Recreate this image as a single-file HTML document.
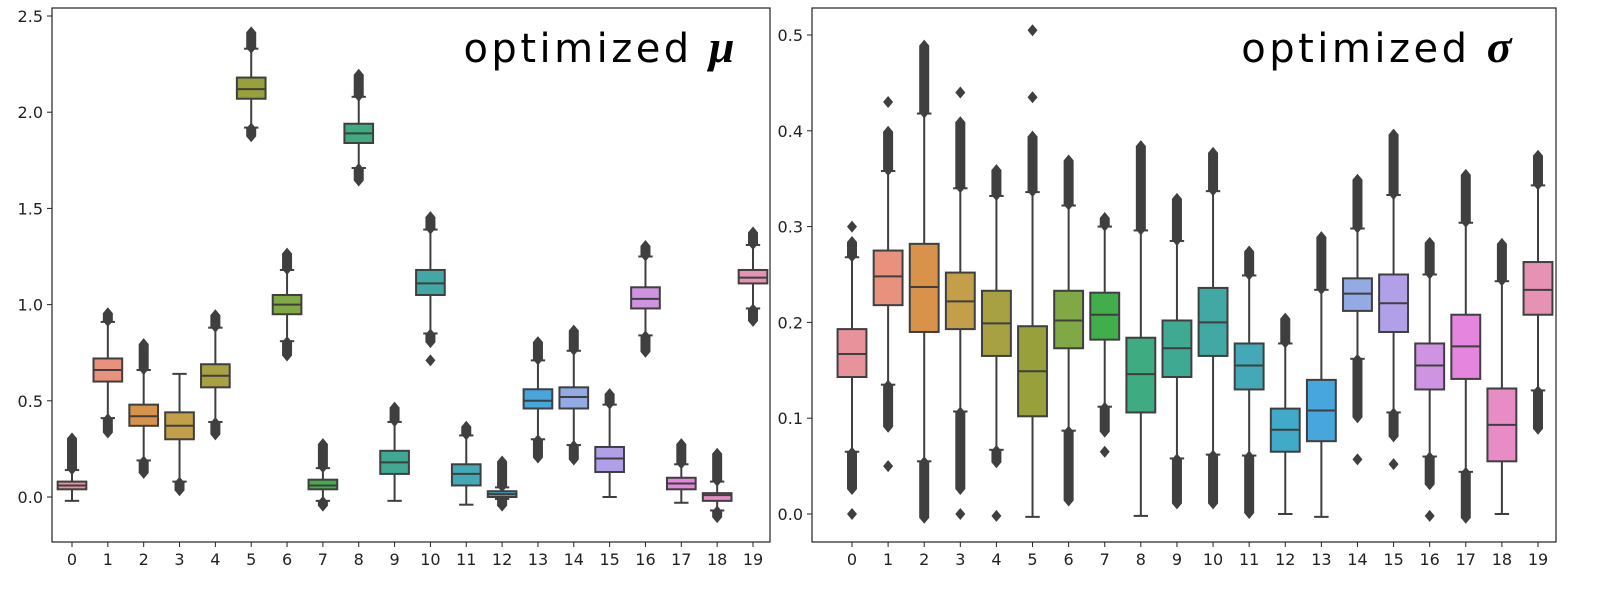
<!DOCTYPE html>
<html><head><meta charset="utf-8"><style>
html,body{margin:0;padding:0;background:#fff;}
svg{display:block;font-family:"DejaVu Sans","Liberation Sans",sans-serif;}
</style></head><body>
<svg id="chart" width="1622" height="603" viewBox="0 0 1622 603" xmlns="http://www.w3.org/2000/svg"></svg>
<script>
const categories = [0,1,2,3,4,5,6,7,8,9,10,11,12,13,14,15,16,17,18,19];
const colors = ["#e8929c","#e8927e","#d8924a","#c49f4a","#a8a144","#97a03b","#80a844","#41ad4b","#3fab80","#3fa992","#42a8a3","#43a9b6","#41aac8","#47a6dc","#93aae4","#b1a0e8","#cf94e1","#e486dd","#e88cc6","#e592b4"];

// mu panel
const muQ1 = [0.04,0.60,0.37,0.30,0.57,2.07,0.95,0.04,1.84,0.12,1.05,0.06,0.00,0.46,0.46,0.13,0.98,0.04,-0.02,1.11];
const muMed = [0.06,0.66,0.42,0.37,0.63,2.12,1.00,0.06,1.89,0.18,1.11,0.12,0.015,0.50,0.52,0.20,1.03,0.07,0.01,1.14];
const muQ3 = [0.08,0.72,0.48,0.44,0.69,2.18,1.05,0.09,1.94,0.24,1.18,0.17,0.03,0.56,0.57,0.26,1.09,0.10,0.02,1.18];
const muWLo = [-0.02,0.41,0.19,0.08,0.39,1.92,0.81,-0.02,1.71,-0.02,0.85,-0.04,-0.01,0.30,0.27,0.00,0.84,-0.03,-0.07,0.98];
const muWHi = [0.14,0.91,0.66,0.64,0.88,2.33,1.18,0.15,2.08,0.39,1.39,0.32,0.05,0.71,0.76,0.48,1.25,0.17,0.08,1.31];
const muLowFlierLo = [null,0.33,0.12,0.03,0.32,1.87,0.73,-0.05,1.64,null,0.80,null,-0.05,0.20,0.19,null,0.75,null,-0.11,0.91];
const muHighFlierHi = [0.31,0.96,0.80,null,0.95,2.42,1.27,0.28,2.20,0.47,1.46,0.37,0.19,0.81,0.87,0.54,1.31,0.28,0.23,1.38];
const muSingleFliersCat = [10];
const muSingleFliersVal = [0.71];
const muTicks = [0.0,0.5,1.0,1.5,2.0,2.5];
const muTickLabels = ["0.0","0.5","1.0","1.5","2.0","2.5"];

// sigma panel
const sgQ1 = [0.143,0.218,0.190,0.193,0.165,0.102,0.173,0.182,0.106,0.143,0.165,0.130,0.065,0.076,0.212,0.190,0.130,0.141,0.055,0.208];
const sgMed = [0.167,0.248,0.237,0.222,0.199,0.149,0.202,0.208,0.146,0.173,0.200,0.155,0.088,0.108,0.230,0.220,0.155,0.175,0.093,0.234];
const sgQ3 = [0.193,0.275,0.282,0.252,0.233,0.196,0.233,0.231,0.184,0.202,0.236,0.178,0.110,0.140,0.246,0.250,0.178,0.208,0.131,0.263];
const sgWLo = [0.065,0.135,0.055,0.107,0.067,-0.003,0.087,0.112,-0.002,0.058,0.062,0.061,0.0,-0.003,0.162,0.106,0.060,0.044,0.0,0.129];
const sgWHi = [0.268,0.358,0.418,0.340,0.332,0.336,0.322,0.300,0.296,0.285,0.337,0.249,0.178,0.234,0.298,0.333,0.250,0.304,0.243,0.343];
const sgLowFlierLo = [0.025,0.09,-0.005,0.025,0.053,null,0.013,0.085,null,0.01,0.01,0.0,null,null,0.10,0.08,0.03,-0.005,null,0.088];
const sgHighFlierHi = [0.285,0.40,0.49,0.41,0.36,0.395,0.37,0.31,0.385,0.33,0.378,0.275,0.205,0.29,0.35,0.397,0.284,0.355,0.283,0.375];
const sgSingleFliersCat = [0,0,1,1,3,3,4,5,5,7,14,15,16];
const sgSingleFliersVal = [0.0,0.30,0.05,0.43,0.0,0.44,-0.002,0.435,0.505,0.065,0.057,0.052,-0.002];
const sgTicks = [0.0,0.1,0.2,0.3,0.4,0.5];
const sgTickLabels = ["0.0","0.1","0.2","0.3","0.4","0.5"];

const NS="http://www.w3.org/2000/svg";
const svg=document.getElementById('chart');
function mk(tag,attrs,parent){const e=document.createElementNS(NS,tag);for(const k in attrs)e.setAttribute(k,attrs[k]);(parent||svg).appendChild(e);return e;}
const LC="#3f3f3f";

function panel(p){
  const g=mk('g',{});
  
  
  const xs=i=>p.x0+(p.x19-p.x0)*i/19;
  const ys=v=>p.yZero+(p.yTop-p.yZero)*v/p.vTop;
  const bw=(p.x19-p.x0)/19*0.8;
  const fr=mk('rect',{x:p.L,y:p.T,width:p.R-p.L,height:p.B-p.T,fill:'none',stroke:'#222','stroke-width':1.2},g);
  
  
  p.ticks.forEach((t,i)=>{
    const y=ys(t);
    mk('line',{x1:p.L-5,x2:p.L,y1:y,y2:y,stroke:'#222','stroke-width':1},g);
    const tx=mk('text',{x:p.L-9,y:y+6,'text-anchor':'end','font-size':16,fill:'#222'},g);
    tx.textContent=p.tickLabels[i];
    
    
  });
  categories.forEach((c,i)=>{
    const x=xs(i);
    mk('line',{x1:x,x2:x,y1:p.B,y2:p.B+5,stroke:'#222','stroke-width':1},g);
    const tx=mk('text',{x:x,y:p.B+23,'text-anchor':'middle','font-size':16,fill:'#222'},g);
    tx.textContent=String(c);
    
    
    const bg=mk('g',{},g);
    
    
    mk('line',{x1:x,x2:x,y1:ys(p.wlo[i]),y2:ys(p.q1[i]),stroke:LC,'stroke-width':2},bg);
    mk('line',{x1:x,x2:x,y1:ys(p.q3[i]),y2:ys(p.whi[i]),stroke:LC,'stroke-width':2},bg);
    mk('line',{x1:x-bw/4,x2:x+bw/4,y1:ys(p.wlo[i]),y2:ys(p.wlo[i]),stroke:LC,'stroke-width':2},bg);
    mk('line',{x1:x-bw/4,x2:x+bw/4,y1:ys(p.whi[i]),y2:ys(p.whi[i]),stroke:LC,'stroke-width':2},bg);
    const clus=(a,b)=>{
      const y1=ys(Math.max(a,b))-5,y2=ys(Math.min(a,b))+5;
      mk('path',{d:`M${x} ${y1} L${x+5} ${y1+6} L${x+5} ${y2-6} L${x} ${y2} L${x-5} ${y2-6} L${x-5} ${y1+6}Z`,fill:LC},bg);
    };
    if(p.lowF[i]!==null) clus(p.lowF[i],p.wlo[i]);
    if(p.highF[i]!==null) clus(p.whi[i],p.highF[i]);
    mk('rect',{x:x-bw/2,y:ys(p.q3[i]),width:bw,height:ys(p.q1[i])-ys(p.q3[i]),fill:colors[i],stroke:LC,'stroke-width':2},bg);
    mk('line',{x1:x-bw/2,x2:x+bw/2,y1:ys(p.med[i]),y2:ys(p.med[i]),stroke:LC,'stroke-width':2},bg);
  });
  p.sc.forEach((c,k)=>{
    const x=xs(c),y=ys(p.sv[k]);
    const d=mk('path',{d:`M${x} ${y-6} L${x+5} ${y} L${x} ${y+6} L${x-5} ${y}Z`,fill:LC},g);
    
    
  });
  const tt=mk('text',{x:p.titleX,y:62,'text-anchor':'end','font-size':40,fill:'#000','letter-spacing':3.5},g);
  
  
  const t1=mk('tspan',{},tt);t1.textContent='optimized ';
  const t2=mk('tspan',{'font-weight':'bold','font-style':'italic','font-family':'"Liberation Serif",serif','font-size':46},tt);t2.textContent=p.sym;
}

panel({name:'mu-panel',L:52,R:770,T:8,B:542,x0:72,x19:753,yZero:497,yTop:16,vTop:2.5,
  q1:muQ1,med:muMed,q3:muQ3,wlo:muWLo,whi:muWHi,lowF:muLowFlierLo,highF:muHighFlierHi,
  sc:muSingleFliersCat,sv:muSingleFliersVal,ticks:muTicks,tickLabels:muTickLabels,titleX:738,sym:'μ'});
panel({name:'sigma-panel',L:812,R:1556,T:8,B:542,x0:852,x19:1538,yZero:514,yTop:35,vTop:0.5,
  q1:sgQ1,med:sgMed,q3:sgQ3,wlo:sgWLo,whi:sgWHi,lowF:sgLowFlierLo,highF:sgHighFlierHi,
  sc:sgSingleFliersCat,sv:sgSingleFliersVal,ticks:sgTicks,tickLabels:sgTickLabels,titleX:1515,sym:'σ'});
</script>
</body></html>
